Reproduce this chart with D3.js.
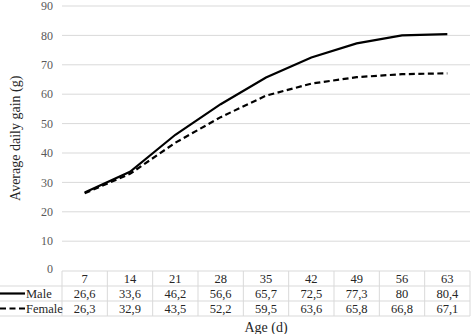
<!DOCTYPE html>
<html>
<head>
<meta charset="utf-8">
<script src="https://cdn.jsdelivr.net/npm/d3@7"></script>
<style>
body{margin:0;background:#fff;}
</style>
</head>
<body>
<div id="chart"></div>
<script>
var ages = [7, 14, 21, 28, 35, 42, 49, 56, 63];
var male = [26.6, 33.6, 46.2, 56.6, 65.7, 72.5, 77.3, 80, 80.4];
var female = [26.3, 32.9, 43.5, 52.2, 59.5, 63.6, 65.8, 66.8, 67.1];
var maleLabels = ["26,6", "33,6", "46,2", "56,6", "65,7", "72,5", "77,3", "80", "80,4"];
var femaleLabels = ["26,3", "32,9", "43,5", "52,2", "59,5", "63,6", "65,8", "66,8", "67,1"];
var yTicks = [0, 10, 20, 30, 40, 50, 60, 70, 80, 90];

var W = 471, H = 334;
var svg = d3.select("#chart").append("svg").attr("width", W).attr("height", H)
    .attr("font-family", "'Liberation Serif', 'Times New Roman', 'DejaVu Serif', serif");

var plotLeft = 62, plotRight = 470, plotTop = 6, plotBottom = 270.6;

var x = d3.scaleBand().domain(ages).range([plotLeft, plotRight]).padding(0);
var y = d3.scaleLinear().domain([0, 90]).range([plotBottom, plotTop]);
var cx = function(a){ return x(a) + x.bandwidth() / 2; };

// gridlines
svg.append("g").selectAll("line").data(yTicks.slice(1)).enter().append("line")
    .attr("x1", plotLeft).attr("x2", plotRight)
    .attr("y1", function(d){ return y(d); }).attr("y2", function(d){ return y(d); })
    .attr("stroke", "#d9d9d9").attr("stroke-width", 1);

// y tick labels
svg.append("g").selectAll("text").data(yTicks).enter().append("text")
    .attr("x", 53).attr("y", function(d){ return d === 0 ? y(d) - 2 : y(d); }).attr("dy", "0.35em")
    .attr("text-anchor", "end").attr("fill", "#595959").style("font-size", "12px")
    .text(function(d){ return d; });

// y title
svg.append("text")
    .attr("transform", "translate(20," + ((plotTop + plotBottom) / 2) + ") rotate(-90)")
    .attr("text-anchor", "middle").attr("fill", "#262626").style("font-size", "14px")
    .text("Average daily gain (g)");

// lines
var line = d3.line().x(function(d){ return cx(d.a); }).y(function(d){ return y(d.v); });
var maleData = ages.map(function(a, i){ return {a: a, v: male[i]}; });
var femaleData = ages.map(function(a, i){ return {a: a, v: female[i]}; });

svg.append("path").datum(femaleData).attr("d", line)
    .attr("fill", "none").attr("stroke", "#000").attr("stroke-width", 2.2)
    .attr("stroke-dasharray", "6,3.5");
svg.append("path").datum(maleData).attr("d", line)
    .attr("fill", "none").attr("stroke", "#000").attr("stroke-width", 2.2);

// data table
var rowY = [271, 286, 301, 316];
var grid = svg.append("g").attr("stroke", "#d9d9d9").attr("stroke-width", 1);
grid.append("line").attr("x1", plotLeft).attr("x2", plotRight).attr("y1", rowY[0]).attr("y2", rowY[0]);
rowY.slice(1).forEach(function(r){
  grid.append("line").attr("x1", 0).attr("x2", plotRight).attr("y1", r).attr("y2", r);
});
ages.forEach(function(a){
  grid.append("line").attr("x1", x(a)).attr("x2", x(a)).attr("y1", rowY[0]).attr("y2", rowY[3]);
});
grid.append("line").attr("x1", plotRight).attr("x2", plotRight).attr("y1", rowY[0]).attr("y2", rowY[3]);

var rows = [ages.map(String), maleLabels, femaleLabels];
rows.forEach(function(row, ri){
  svg.append("g").selectAll("text").data(row).enter().append("text")
      .attr("x", function(d, i){ return cx(ages[i]); })
      .attr("y", (rowY[ri] + rowY[ri + 1]) / 2).attr("dy", "0.35em")
      .attr("text-anchor", "middle").attr("fill", "#262626").style("font-size", "12.5px")
      .text(function(d){ return d; });
});

// legend keys in table
var keys = [{name: "Male", dash: null}, {name: "Female", dash: "6,3.5"}];
keys.forEach(function(k, i){
  var yy = (rowY[i + 1] + rowY[i + 2]) / 2;
  svg.append("line").attr("x1", 0).attr("x2", 25).attr("y1", yy).attr("y2", yy)
      .attr("stroke", "#000").attr("stroke-width", 2.2)
      .attr("stroke-dasharray", k.dash);
  svg.append("text").attr("x", 26).attr("y", yy).attr("dy", "0.35em")
      .attr("fill", "#262626").style("font-size", "12.5px").text(k.name);
});

// x title
svg.append("text").attr("x", (plotLeft + plotRight) / 2).attr("y", 332)
    .attr("text-anchor", "middle").attr("fill", "#262626").style("font-size", "14px")
    .text("Age (d)");
</script>
</body>
</html>
